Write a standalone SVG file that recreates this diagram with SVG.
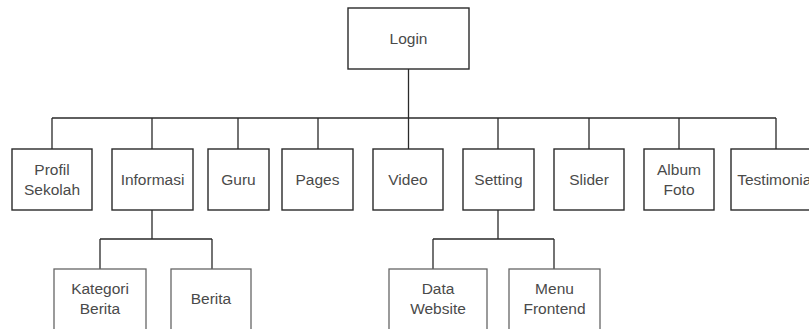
<svg xmlns="http://www.w3.org/2000/svg" width="809" height="329" viewBox="0 0 809 329">
<style>
.box{fill:#fff;stroke:#2a2a2a;stroke-width:1.4}
.sub{fill:#fff;stroke:#666;stroke-width:1.3}
.lbl{font-family:"Liberation Sans",Arial,sans-serif;font-size:15.5px;fill:#4a4a4a;text-anchor:middle}
.con{fill:none;stroke:#2a2a2a;stroke-width:1.3}
</style>
<rect width="809" height="329" fill="#fff"/>
<g id="connectors">
<path class="con" d="M408.5,69V149"/>
<path class="con" d="M52,118H776"/>
<path class="con" d="M52,118V149M152,118V149M238,118V149M318,118V149M498,118V149M589,118V149M679,118V149M776,118V149"/>
<path class="con" d="M152,210V239M100,239H212M100,239V269M212,239V269"/>
<path class="con" d="M498,210V239M433,239H554M433,239V269M554,239V269"/>
</g>
<g id="login"><rect class="box" x="348" y="8" width="121" height="61"/><text class="lbl" x="408.5" y="44">Login</text></g>
<g id="profil"><rect class="box" x="12" y="149" width="80" height="61"/><text class="lbl" x="52" y="175">Profil</text><text class="lbl" x="52" y="195">Sekolah</text></g>
<g id="informasi"><rect class="box" x="112" y="149" width="81" height="61"/><text class="lbl" x="152.5" y="185">Informasi</text></g>
<g id="guru"><rect class="box" x="208" y="149" width="61" height="61"/><text class="lbl" x="238.5" y="185">Guru</text></g>
<g id="pages"><rect class="box" x="282" y="149" width="71" height="61"/><text class="lbl" x="317.5" y="185">Pages</text></g>
<g id="video"><rect class="box" x="373" y="149" width="70" height="61"/><text class="lbl" x="408" y="185">Video</text></g>
<g id="setting"><rect class="box" x="463" y="149" width="71" height="61"/><text class="lbl" x="498.5" y="185">Setting</text></g>
<g id="slider"><rect class="box" x="554" y="149" width="70" height="61"/><text class="lbl" x="589" y="185">Slider</text></g>
<g id="album"><rect class="box" x="644" y="149" width="70" height="61"/><text class="lbl" x="679" y="175">Album</text><text class="lbl" x="679" y="195">Foto</text></g>
<g id="testimonial"><rect class="box" x="731" y="149" width="90" height="61"/><text class="lbl" x="776" y="185">Testimonial</text></g>
<g id="kategori"><rect class="sub" x="54" y="269" width="92" height="61"/><text class="lbl" x="100" y="294">Kategori</text><text class="lbl" x="100" y="314">Berita</text></g>
<g id="berita"><rect class="sub" x="171" y="269" width="80" height="61"/><text class="lbl" x="211" y="304">Berita</text></g>
<g id="datawebsite"><rect class="sub" x="389" y="269" width="98" height="61"/><text class="lbl" x="438" y="294">Data</text><text class="lbl" x="438" y="314">Website</text></g>
<g id="menufrontend"><rect class="sub" x="509" y="269" width="91" height="61"/><text class="lbl" x="554.5" y="294">Menu</text><text class="lbl" x="554.5" y="314">Frontend</text></g>
</svg>
